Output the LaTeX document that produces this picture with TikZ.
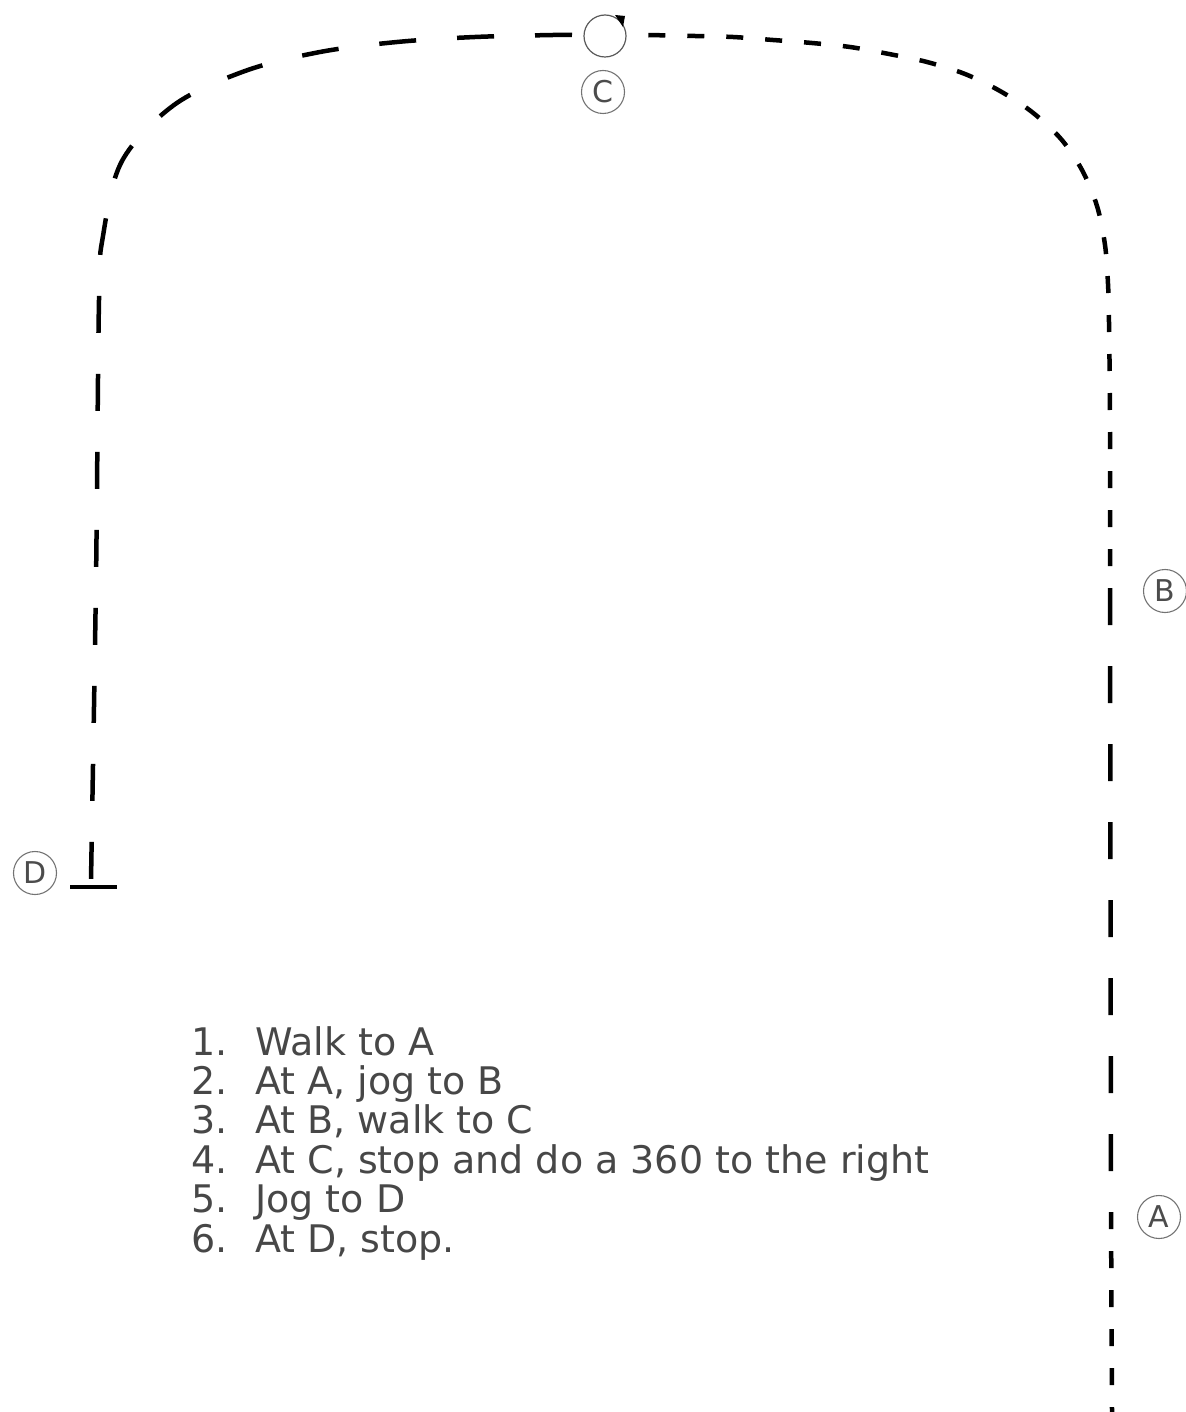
\documentclass[tikz,border=0pt]{standalone}
\usepackage{fontspec}
\setmainfont{DejaVu Sans}
\usetikzlibrary{arrows.meta}
\begin{document}
\begin{tikzpicture}[x=1pt,y=-1pt,
  walkline/.style={line width=4.5pt, dash pattern=on 17pt off 22pt},
  jogline/.style={line width=4.5pt, dash pattern=on 37pt off 41pt},
  lbl/.style={circle, draw=black!55, line width=1.1pt, minimum size=43pt, inner sep=0pt,
              font=\fontsize{30}{30}\selectfont, text=black!70},
  turnring/.style={circle, draw=black!65, line width=1.2pt, minimum size=42pt, inner sep=0pt},
  stepstext/.style={anchor=north west, align=left, inner sep=0pt, text=black!72,
              font=\fontsize{38}{39.4}\selectfont}]
\useasboundingbox (0,0) rectangle (1185,1412);

% labels
\node[lbl] (A) at (1159,1217) {A};
\node[lbl] (B) at (1165,591) {B};
\node[lbl] (C) at (603,92) {C};
\node[lbl] (D) at (35,873) {D};

% turn circle at C
\node[turnring] (turn) at (605,36) {};
\fill ([shift={(10,-21)}]turn.center) -- ([shift={(20,-20)}]turn.center) -- ([shift={(18,-9)}]turn.center) -- cycle;

% path coordinates
\coordinate (start) at (1112,1412);
\coordinate (atA) at (1111,1212);
\coordinate (jogAend) at (1111,1182);
\coordinate (atB) at (1110,588);
\coordinate (barL) at (70,887);
\coordinate (barR) at (117,887);

% walk to A (drawn from A downward so dashes line up)
\draw[walkline] (atA) -- (start);
% jog A to B
\draw[jogline] (atB) -- (jogAend);
% walk B to C
\draw[walkline] plot[smooth, tension=0.55] coordinates {
  (1110,566) (1110,420) (1109,323) (1108,284) (1105,245) (1097,206) (1082,170)
  (1061,139) (1032,112) (1000,91) (965,74) (927,62) (889,54) (850,47) (812,43)
  (773,40) (733,37) (695,36) (647,35)};
% jog C to D
\draw[jogline] plot[smooth, tension=0.55] coordinates {
  (572,35) (553,35) (475,37) (397,42) (320,52) (245,71) (174,105) (122,161)
  (103,236) (99,300) (96,580) (91,880)};
% stop bar at D
\draw[line width=4pt] (barL) -- (barR);

% instructions
\node[stepstext] (steps) at (191,1026) {%
\makebox[64pt][l]{1.}Walk to A\\
\makebox[64pt][l]{2.}At A, jog to B\\
\makebox[64pt][l]{3.}At B, walk to C\\
\makebox[64pt][l]{4.}At C, stop and do a 360 to the right\\
\makebox[64pt][l]{5.}Jog to D\\
\makebox[64pt][l]{6.}At D, stop.};
\end{tikzpicture}
\end{document}
